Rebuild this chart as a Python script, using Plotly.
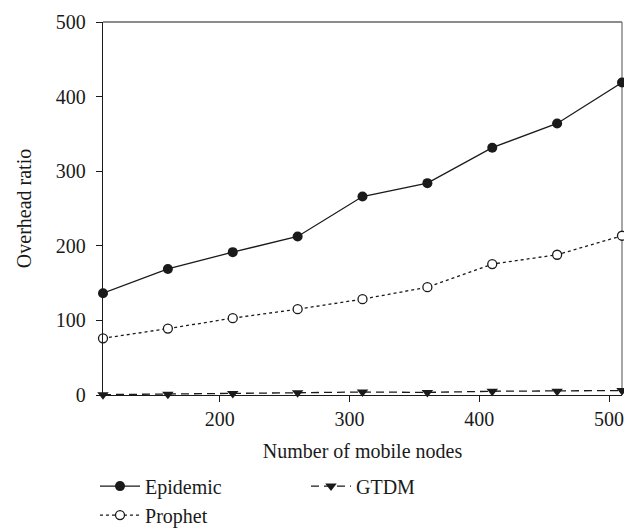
import plotly.graph_objects as go

nodes = [110, 160, 210, 260, 310, 360, 410, 460, 510]
epidemic = [136.5, 169, 191.5, 212.5, 266, 284, 331.5, 364, 419]
prophet = [76, 89, 103, 115, 128.5, 144.5, 175.5, 188, 213.5]
gtdm = [0.5, 1, 2, 3, 4, 3.5, 5, 5, 6]

x_ticks = [200, 300, 400, 500]
y_ticks = [0, 100, 200, 300, 400, 500]

FONT = "Liberation Serif"
INK = "#1a1a1a"
fig = go.Figure()
fig.add_trace(go.Scatter(x=nodes, y=epidemic, name="Epidemic", mode="lines+markers",
                         line=dict(color=INK, width=1.3),
                         marker=dict(symbol="circle", size=10, color=INK),
                         legendrank=1, cliponaxis=False))
fig.add_trace(go.Scatter(x=nodes, y=gtdm, name="GTDM", mode="lines+markers",
                         line=dict(color=INK, width=1.3, dash="8px,5px"),
                         marker=dict(symbol="triangle-down", size=10, color=INK),
                         legendrank=2, cliponaxis=False))
fig.add_trace(go.Scatter(x=nodes, y=prophet, name="Prophet", mode="lines+markers",
                         line=dict(color=INK, width=1.3, dash="dot"),
                         marker=dict(symbol="circle", size=9, color="white", line=dict(width=1.3, color=INK)),
                         legendrank=3, cliponaxis=False))

# frame: top and right in grey
fig.add_shape(type="line", xref="paper", yref="paper", x0=0, x1=1, y0=1, y1=1,
              line=dict(color="#666666", width=1.3), layer="below")
fig.add_shape(type="line", xref="paper", yref="paper", x0=1, x1=1, y0=0, y1=1,
              line=dict(color="#777777", width=1.3), layer="below")

fig.update_layout(
    width=632, height=529,
    margin=dict(l=95, r=18, t=14, b=142, autoexpand=False),
    plot_bgcolor="white", paper_bgcolor="white",
    font=dict(family=FONT, size=20, color=INK),
    showlegend=True,
    legend=dict(orientation="h", xref="paper", yref="paper", x=-0.0154, y=-0.192,
                yanchor="top", xanchor="left",
                entrywidth=156, font=dict(size=20, family=FONT), tracegroupgap=0,
                itemwidth=40),
    xaxis=dict(range=[110, 510], tickvals=x_ticks, ticks="outside", ticklen=6, tickcolor=INK,
               ticklabelstandoff=0,
               showgrid=False, zeroline=False, showline=True, linecolor=INK, linewidth=1.3,
               title=dict(text="Number of mobile nodes", font=dict(size=20), standoff=14),
               tickfont=dict(size=20)),
    yaxis=dict(range=[0, 500], tickvals=y_ticks, ticks="outside", ticklen=6, tickcolor=INK,
               ticklabelstandoff=6,
               showgrid=False, zeroline=False, showline=True, linecolor=INK, linewidth=1.3,
               title=dict(text="Overhead ratio", font=dict(size=20), standoff=18),
               tickfont=dict(size=20)),
)

fig.write_html("out.html")
